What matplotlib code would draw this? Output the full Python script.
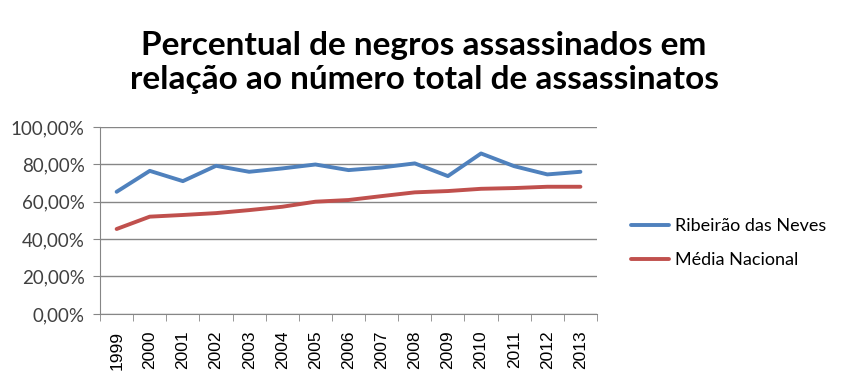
import numpy as np
import matplotlib.pyplot as plt
from matplotlib.ticker import FuncFormatter, FixedLocator

anos = ["1999", "2000", "2001", "2002", "2003", "2004", "2005", "2006",
        "2007", "2008", "2009", "2010", "2011", "2012", "2013"]
ribeirao = [65.3, 76.5, 71.0, 79.2, 76.0, 77.8, 79.9, 76.9,
            78.3, 80.5, 73.7, 85.8, 79.0, 74.6, 76.0]
media = [45.4, 52.0, 52.9, 53.9, 55.5, 57.3, 60.0, 60.9,
         63.0, 65.0, 65.7, 66.9, 67.3, 68.0, 68.0]

azul = "#4F81BD"
vermelho = "#C0504D"
cinza = "#868686"

fig = plt.figure(figsize=(8.48, 3.8), dpi=100)
ax = fig.add_axes([0.118, 0.174, 0.586, 0.492])

x = np.arange(len(anos))
ax.plot(x, ribeirao, color=azul, lw=2.8, label="Ribeirão das Neves", solid_capstyle="round")
ax.plot(x, media, color=vermelho, lw=2.8, label="Média Nacional", solid_capstyle="round")

ax.set_xlim(-0.5, len(anos) - 0.5)
ax.set_ylim(0, 100)
ax.set_yticks(np.arange(0, 101, 20))
ax.yaxis.set_major_formatter(FuncFormatter(lambda v, p: ("%.2f%%" % v).replace(".", ",")))
ax.set_xticks(x)
ax.set_xticklabels(anos, rotation=90, fontsize=12.5, family="Liberation Sans")
ax.xaxis.set_minor_locator(FixedLocator(np.arange(-0.5, len(anos), 1)))
ax.tick_params(axis="x", which="major", length=0, pad=12)
ax.tick_params(axis="x", which="minor", length=5, color=cinza)
ax.tick_params(axis="y", length=5, color=cinza, labelsize=13.5, pad=6)
for lab in ax.get_yticklabels():
    lab.set_family("Lato")
    lab.set_color("#404040")

ax.grid(axis="y", color=cinza, lw=1)
ax.set_axisbelow(True)
for s in ["top", "right"]:
    ax.spines[s].set_visible(False)
for s in ["left", "bottom"]:
    ax.spines[s].set_color(cinza)

fig.text(0.5, 0.835, "Percentual de negros assassinados em\nrelação ao número total de assassinatos",
         ha="center", va="center", fontsize=24, fontweight="bold", family="Lato",
         linespacing=1.2)

leg = fig.legend(loc="center left", bbox_to_anchor=(0.725, 0.36), frameon=False,
                 prop={"family": "Lato", "size": 13}, handlelength=2.1,
                 handletextpad=0.35, labelspacing=1.0)

fig.savefig("out.png", dpi=100)
